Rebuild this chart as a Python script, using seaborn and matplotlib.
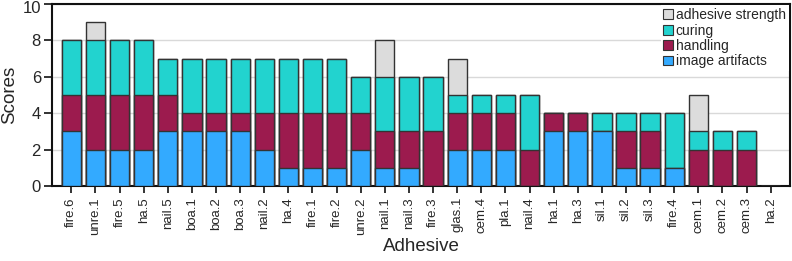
import numpy as np
import pandas as pd
import matplotlib
matplotlib.use("Agg")
import matplotlib.pyplot as plt
import matplotlib.transforms as mtransforms
from matplotlib.patches import Patch
import seaborn as sns

categories = ["fire.6", "unre.1", "fire.5", "ha.5", "nail.5", "boa.1", "boa.2", "boa.3",
              "nail.2", "ha.4", "fire.1", "fire.2", "unre.2", "nail.1", "nail.3", "fire.3",
              "glas.1", "cem.4", "pla.1", "nail.4", "ha.1", "ha.3", "sil.1", "sil.2",
              "sil.3", "fire.4", "cem.1", "cem.2", "cem.3", "ha.2"]
image_artifacts = [3, 2, 2, 2, 3, 3, 3, 3, 2, 1, 1, 1, 2, 1, 1, 0, 2, 2, 2, 0, 3, 3, 3, 1, 1, 1, 0, 0, 0, 0]
handling        = [2, 3, 3, 3, 2, 1, 1, 1, 2, 3, 3, 3, 2, 2, 2, 3, 2, 2, 2, 2, 1, 1, 0, 2, 2, 0, 2, 2, 2, 0]
curing          = [3, 3, 3, 3, 2, 3, 3, 3, 3, 3, 3, 3, 2, 3, 3, 3, 1, 1, 1, 3, 0, 0, 1, 1, 1, 3, 1, 1, 1, 0]
adhesive_strength = [0, 1, 0, 0, 0, 0, 0, 0, 0, 0, 0, 0, 0, 2, 0, 0, 2, 0, 0, 0, 0, 0, 0, 0, 0, 0, 2, 0, 0, 0]

series_names = ["image artifacts", "handling", "curing", "adhesive strength"]
colors = {"image artifacts": "#33AAFF", "handling": "#9C1B4E",
          "curing": "#22D3CF", "adhesive strength": "#DCDCDC"}

sns.set_theme(style="white")
plt.rcParams["font.family"] = ["Liberation Sans", "DejaVu Sans"]

df = pd.DataFrame({"Adhesive": categories,
                   "image artifacts": image_artifacts,
                   "handling": handling,
                   "curing": curing,
                   "adhesive strength": adhesive_strength})

fig = plt.figure(figsize=(7.92, 2.61), dpi=100)
ax = fig.add_axes([0.0657, 0.2874, 0.9318, 0.6973])

cum = np.zeros(len(categories))
cums = []
for s in series_names:
    cum = cum + df[s].to_numpy()
    cums.append(cum.copy())

# draw from top layer down so lower layers overlay
for s, c in reversed(list(zip(series_names, cums))):
    sns.barplot(x=df["Adhesive"], y=c, order=categories, color=colors[s],
                saturation=1, width=0.8, edgecolor="#333333", linewidth=1.0,
                ax=ax, zorder=3)

ax.set_ylim(0, 10)
ax.set_xlim(-0.8, 29.8)
ax.set_yticks([0, 2, 4, 6, 8, 10])
ax.yaxis.grid(True, color="#D9D9D9", linewidth=1.0, zorder=0)
ax.set_axisbelow(True)
for sp in ax.spines.values():
    sp.set_color("#111111")
    sp.set_linewidth(1.5)
ax.tick_params(axis="y", which="major", direction="out", length=6, width=1.2,
               color="#111111", labelsize=12, pad=2, left=True)
ax.tick_params(axis="x", which="major", direction="out", length=5, width=1.2,
               color="#111111", labelsize=9.5, pad=3, bottom=True, labelrotation=90)
ax.set_xlabel("Adhesive", fontsize=13.5, labelpad=2)
ax.set_ylabel("Scores", fontsize=13.5, labelpad=3)

# nudge the top tick label ("10") down slightly so it stays inside the figure
top_label = ax.get_yticklabels()[-1]
top_label.set_transform(top_label.get_transform() +
                        mtransforms.ScaledTranslation(0, -2.5 / 72, fig.dpi_scale_trans))

handles = [Patch(facecolor=colors[s], edgecolor="#333333", linewidth=0.8, label=s)
           for s in reversed(series_names)]
leg = ax.legend(handles=handles, loc="upper right", fontsize=10, frameon=True,
                fancybox=False, framealpha=1, edgecolor="none", handlelength=0.7,
                handleheight=0.7, handletextpad=0.2, labelspacing=0.1,
                borderaxespad=0.1, borderpad=0.2)
leg.set_zorder(5)

fig.savefig("out.png", dpi=100)
